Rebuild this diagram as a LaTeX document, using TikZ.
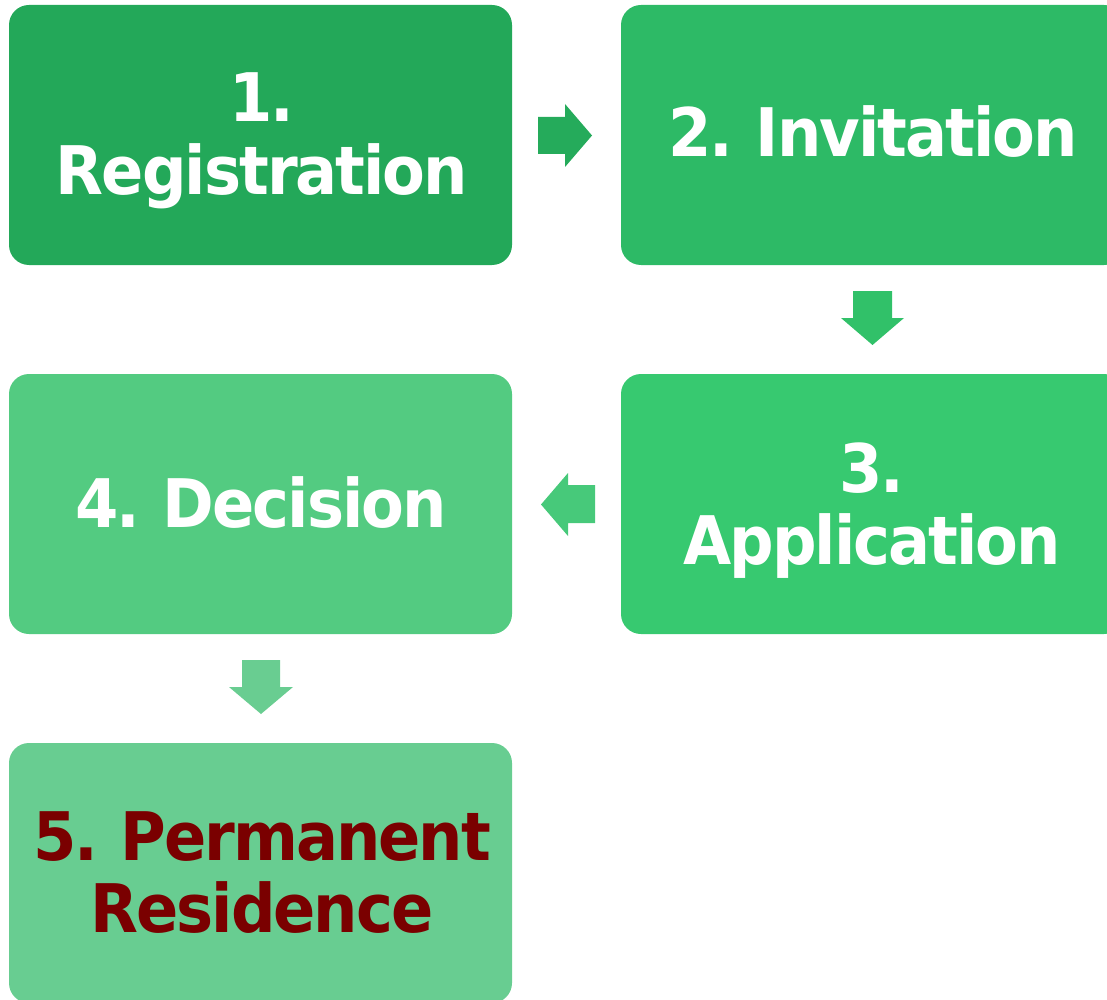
\documentclass[tikz,border=0pt]{standalone}
\usepackage{fontspec}
\newfontfamily\boxfont{DejaVu Sans}[FakeStretch=0.93, LetterSpace=-3, WordSpace=0.8]
\definecolor{cA}{HTML}{23A859}
\definecolor{cB}{HTML}{2DBA66}
\definecolor{cC}{HTML}{37C970}
\definecolor{cD}{HTML}{53CB81}
\definecolor{cE}{HTML}{68CD91}
\definecolor{aA}{HTML}{25AB5B}
\definecolor{aB}{HTML}{31C169}
\definecolor{aC}{HTML}{47C97A}
\definecolor{aD}{HTML}{69CD91}
\definecolor{darkred}{HTML}{7A0000}
\tikzset{
  stepbox/.style={rectangle, rounded corners=20pt, minimum width=503pt, minimum height=260pt, inner sep=0pt, draw=none},
  txt/.style={inner sep=0pt, anchor=base, text=white, font=\boxfont\bfseries\fontsize{67}{72}\selectfont},
  blockarrow/.style={draw=none}
}
\newcommand{\twolines}[2]{\begin{tabular}[t]{@{}c@{}}#1\\#2\end{tabular}}
\begin{document}
\begin{tikzpicture}[x=1pt,y=-1pt]
\useasboundingbox (0,0) rectangle (1107,1000);
% boxes
\node[stepbox, fill=cA] (b1) at (260.5,135) {};
\node[stepbox, fill=cB] (b2) at (872.5,135) {};
\node[stepbox, fill=cC] (b3) at (872.5,504) {};
\node[stepbox, fill=cD] (b4) at (260.5,504) {};
\node[stepbox, fill=cE] (b5) at (260.5,873) {};
% texts
\node[txt] (t1) at (262,122) {\twolines{1.}{Registration}};
\node[txt] (t2) at (873,157) {2. Invitation};
\node[txt] (t3) at (872,492) {\twolines{3.}{Application}};
\node[txt] (t4) at (261,527) {4. Decision};
\node[txt, text=darkred] (t5) at (262,860) {\twolines{5. Permanent}{Residence}};
% block arrows
\fill[aA] (538,117) -- (565,117) -- (565,104) -- (592,135.5) -- (565,167) -- (565,154) -- (538,154) -- cycle;
\fill[aB] (853,291) -- (892,291) -- (892,318) -- (904,318) -- (872.5,345) -- (841,318) -- (853,318) -- cycle;
\fill[aC] (595,485) -- (568,485) -- (568,473) -- (541,504.5) -- (568,536) -- (568,523) -- (595,523) -- cycle;
\fill[aD] (242,660) -- (280,660) -- (280,687) -- (293,687) -- (261,714) -- (229,687) -- (242,687) -- cycle;
\end{tikzpicture}
\end{document}
